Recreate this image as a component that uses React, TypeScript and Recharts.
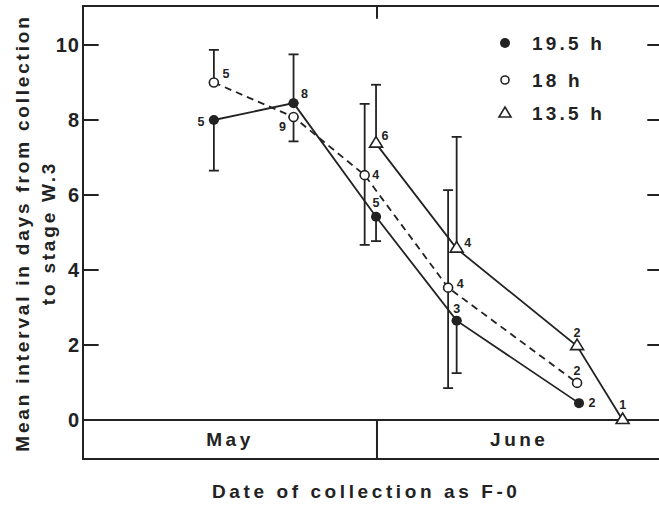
import React from 'react';
import {
  ComposedChart,
  Line,
  XAxis,
  YAxis,
  ErrorBar,
  LabelList,
  ReferenceArea,
  ReferenceLine,
  Legend,
} from 'recharts';

const INK = '#222';
const FONT = '"Liberation Sans", Arial, Helvetica, sans-serif';

// x is days counted from 1 May (0); June starts at 31, ends at 61
const MONTHS = ['May', 'June'];
const MONTH_STARTS = [0, 31, 61];
const Y_TICKS = [0, 2, 4, 6, 8, 10];
const Y_DOMAIN = [-1.04, 11.04];

const SERIES_NAMES = ['19.5 h', '18 h', '13.5 h'];

// error values are [below, above]; null = no bar
const H195_DAY = [13.8, 22.2, 30.9, 39.4, 52.3];
const H195_MEAN = [8.0, 8.45, 5.42, 2.65, 0.45];
const H195_ERR = [[1.35, 0], [0, 1.3], [0.65, 0], [1.4, 0], null];
const H195_N = [5, 8, 5, 3, 2];

const H18_DAY = [13.8, 22.2, 29.7, 38.5, 52.1];
const H18_MEAN = [9.0, 8.08, 6.53, 3.53, 0.99];
const H18_ERR = [[0, 0.87], [0.65, 0], [1.86, 1.9], [2.68, 2.6], null];
const H18_N = [5, 9, 4, 4, 2];

const H135_DAY = [30.9, 39.4, 52.1, 56.9];
const H135_MEAN = [7.37, 4.57, 1.97, 0];
const H135_ERR = [[0, 1.57], [0, 2.98], null, null];
const H135_N = [6, 4, 2, 1];

// where each sample-size number sits relative to its marker
const H195_LABEL_OFFSET = [[-13, 2], [11, -9], [0, -14], [0, -12], [13, 0]];
const H18_LABEL_OFFSET = [[12, -9], [-11, 10], [11, 0], [12, -4], [0, -12]];
const H135_LABEL_OFFSET = [[9, -8], [11, -6], [0, -13], [0, -15]];

const build = (days: number[], means: number[], errs: any[], ns: number[]) =>
  days.map((x, i) => ({ x, y: means[i], err: errs[i], n: ns[i] }));

const h195 = build(H195_DAY, H195_MEAN, H195_ERR, H195_N);
const h18 = build(H18_DAY, H18_MEAN, H18_ERR, H18_N);
const h135 = build(H135_DAY, H135_MEAN, H135_ERR, H135_N);

const X_START = MONTH_STARTS[0];
const X_END = MONTH_STARTS[MONTH_STARTS.length - 1];

const FilledDot = ({ cx, cy, index }: any) => (
  <circle key={`f-${index}`} cx={cx} cy={cy} r={5} fill={INK} />
);
const OpenDot = ({ cx, cy, index }: any) => (
  <circle key={`o-${index}`} cx={cx} cy={cy} r={4.5} fill="#fff" stroke={INK} strokeWidth={1.6} />
);
const TriDot = ({ cx, cy, index }: any) => (
  <path
    key={`t-${index}`}
    d={`M${cx},${cy - 7}L${cx + 6.5},${cy + 3.5}L${cx - 6.5},${cy + 3.5}Z`}
    fill="#fff"
    stroke={INK}
    strokeWidth={1.6}
  />
);

const countLabel = (offsets: number[][]) => (props: any) => {
  const { x, y, value, index } = props;
  const [dx, dy] = offsets[index] || [0, -12];
  return (
    <text
      key={`n-${index}`}
      x={x + dx}
      y={y + dy}
      textAnchor="middle"
      dominantBaseline="central"
      fontSize={12.5}
      fontWeight="bold"
      fontFamily={FONT}
      fill={INK}
    >
      {value}
    </text>
  );
};

const YTitle = () => (
  <g fontFamily={FONT} fontSize={19} fontWeight="bold" fill={INK} letterSpacing={2.8}>
    <text x={22} y={233} textAnchor="middle" dominantBaseline="central" transform="rotate(-90 22 233)">
      Mean interval in days from collection
    </text>
    <text x={48} y={233} textAnchor="middle" dominantBaseline="central" transform="rotate(-90 48 233)">
      to stage W.3
    </text>
  </g>
);

const XTitle = ({ viewBox }: any) => (
  <text
    x={viewBox.x + viewBox.width / 2 - 6}
    y={viewBox.y + 32}
    textAnchor="middle"
    dominantBaseline="central"
    fontFamily={FONT}
    fontSize={19}
    fontWeight="bold"
    letterSpacing={3.6}
    fill={INK}
  >
    Date of collection as F-0
  </text>
);

const LEGEND_ROWS = [18, 55, 88];
const LegendBox = () => (
  <svg width={160} height={110}>
    {SERIES_NAMES.map((name, i) => {
      const cy = LEGEND_ROWS[i];
      let mark;
      if (i === 0) mark = <circle cx={15} cy={cy} r={5} fill={INK} />;
      else if (i === 1) mark = <circle cx={15} cy={cy} r={4} fill="#fff" stroke={INK} strokeWidth={1.6} />;
      else mark = <path d={`M15,${cy - 6}L21,${cy + 4}L9,${cy + 4}Z`} fill="#fff" stroke={INK} strokeWidth={1.6} />;
      return (
        <g key={name}>
          {mark}
          <text
            x={42}
            y={cy}
            dominantBaseline="central"
            fontFamily={FONT}
            fontSize={19}
            fontWeight="bold"
            letterSpacing={3.2}
            fill={INK}
          >
            {name}
          </text>
        </g>
      );
    })}
  </svg>
);

export default function App() {
  return (
    <div
      style={{
        position: 'fixed',
        left: 0,
        top: 0,
        width: 659,
        height: 506,
        overflow: 'hidden',
        background: '#fff',
      }}
    >
      <ComposedChart width={680} height={506} margin={{ top: 6, right: 18.5, left: 0, bottom: 0 }}>
        <XAxis
          type="number"
          dataKey="x"
          domain={[X_START, X_END]}
          allowDataOverflow
          tick={false}
          tickLine={false}
          axisLine={false}
          height={47}
          label={{ content: XTitle }}
        />
        <YAxis
          type="number"
          domain={Y_DOMAIN}
          allowDataOverflow
          ticks={Y_TICKS}
          width={83}
          axisLine={false}
          tickSize={0}
          tickMargin={3}
          tickLine={false}
          tick={{ fill: INK, fontSize: 20, fontWeight: 'bold', fontFamily: FONT, letterSpacing: 1 }}
          label={{ content: YTitle }}
        />

        {MONTHS.map((m, i) => (
          <ReferenceArea
            key={m}
            x1={MONTH_STARTS[i]}
            x2={MONTH_STARTS[i + 1]}
            y1={Y_DOMAIN[0]}
            y2={0}
            fill="none"
            stroke={INK}
            strokeWidth={2}
            label={{
              value: m,
              position: 'center',
              fill: INK,
              fontSize: 19,
              fontWeight: 'bold',
              fontFamily: FONT,
              letterSpacing: 3.5,
            }}
          />
        ))}
        <ReferenceArea
          x1={X_START}
          x2={X_END}
          y1={Y_DOMAIN[0]}
          y2={Y_DOMAIN[1]}
          fill="none"
          stroke={INK}
          strokeWidth={2}
        />
        <ReferenceLine
          segment={[
            { x: MONTH_STARTS[1], y: Y_DOMAIN[1] },
            { x: MONTH_STARTS[1], y: 10.7 },
          ]}
          stroke={INK}
          strokeWidth={2}
        />
        {/* inward tick marks on both vertical sides of the frame */}
        {Y_TICKS.map((t) => (
          <ReferenceLine
            key={`lt-${t}`}
            ifOverflow="visible"
            segment={[
              { x: X_START, y: t },
              { x: X_START + 1.65, y: t },
            ]}
            stroke={INK}
            strokeWidth={2}
          />
        ))}
        {Y_TICKS.map((t) => (
          <ReferenceLine
            key={`rt-${t}`}
            ifOverflow="visible"
            segment={[
              { x: X_END - 1.5, y: t },
              { x: X_END, y: t },
            ]}
            stroke={INK}
            strokeWidth={2}
          />
        ))}

        <Line
          data={h18}
          dataKey="y"
          name={SERIES_NAMES[1]}
          stroke={INK}
          strokeWidth={1.8}
          strokeDasharray="7 5"
          dot={OpenDot}
          activeDot={false}
          isAnimationActive={false}
        >
          <ErrorBar dataKey="err" direction="y" width={5} stroke={INK} strokeWidth={1.8} />
          <LabelList dataKey="n" content={countLabel(H18_LABEL_OFFSET)} />
        </Line>
        <Line
          data={h195}
          dataKey="y"
          name={SERIES_NAMES[0]}
          stroke={INK}
          strokeWidth={1.8}
          dot={FilledDot}
          activeDot={false}
          isAnimationActive={false}
        >
          <ErrorBar dataKey="err" direction="y" width={5} stroke={INK} strokeWidth={1.8} />
          <LabelList dataKey="n" content={countLabel(H195_LABEL_OFFSET)} />
        </Line>
        <Line
          data={h135}
          dataKey="y"
          name={SERIES_NAMES[2]}
          stroke={INK}
          strokeWidth={1.8}
          dot={TriDot}
          activeDot={false}
          isAnimationActive={false}
        >
          <ErrorBar dataKey="err" direction="y" width={5} stroke={INK} strokeWidth={1.8} />
          <LabelList dataKey="n" content={countLabel(H135_LABEL_OFFSET)} />
        </Line>

        <Legend
          layout="vertical"
          align="center"
          verticalAlign="middle"
          content={LegendBox}
          wrapperStyle={{ left: 490, top: 25, width: 160, height: 110 }}
        />
      </ComposedChart>
    </div>
  );
}
